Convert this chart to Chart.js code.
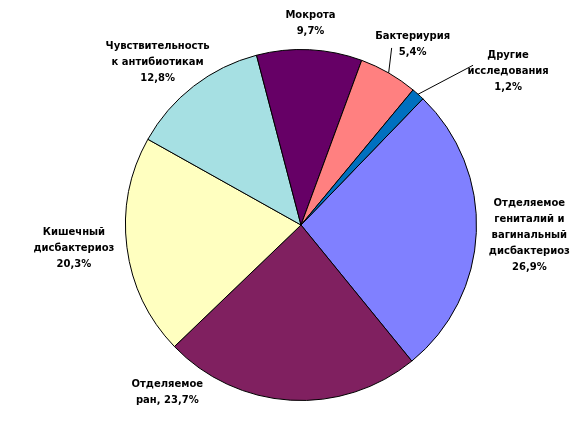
<!DOCTYPE html>
<html>
<head>
<meta charset="utf-8">
<script src="https://cdn.jsdelivr.net/npm/chart.js@4"></script>
<style>
  html, body { margin: 0; padding: 0; background: #fff; }
  #wrap { width: 588px; height: 425px; position: relative; }
</style>
</head>
<body>
<div id="wrap"><canvas id="pieChart"></canvas></div>
<script>
// данные диаграммы
const categories = [
  'Отделяемое\nгениталий и\nвагинальный\nдисбактериоз',
  'Отделяемое\nран,',
  'Кишечный\nдисбактериоз',
  'Чувствительность\nк антибиотикам',
  'Мокрота',
  'Бактериурия',
  'Другие\nисследования'
];
const values = [26.9, 23.7, 20.3, 12.8, 9.7, 5.4, 1.2];
const colors = ['#8080FF', '#802060', '#FFFFC0', '#A6E0E3', '#660066', '#FF8080', '#0070C0'];

// сдвиг подписи от края сектора (dx, dy), и выноски
const labelShift = [[53, 3], [-123, -8], [-53, 1], [-36, -24], [1, -26], [24, -29], [90, -23]];
const leaderFrom = [null, null, null, null, null, [-21, 4], [-35, -6]];

function fmt(v) {
  return v.toFixed(1).replace('.', ',') + '%';
}

const pieLabels = {
  id: 'pieLabels',
  afterDatasetsDraw(chart) {
    const ctx = chart.ctx;
    const meta = chart.getDatasetMeta(0);
    ctx.save();
    ctx.font = 'bold 10px "DejaVu Sans"';
    ctx.fillStyle = '#000';
    ctx.strokeStyle = '#000';
    ctx.lineWidth = 1;
    ctx.textAlign = 'center';
    ctx.textBaseline = 'middle';
    meta.data.forEach((arc, i) => {
      const mid = (arc.startAngle + arc.endAngle) / 2;
      const ex = arc.x + Math.cos(mid) * arc.outerRadius;
      const ey = arc.y + Math.sin(mid) * arc.outerRadius;
      const cx = ex + labelShift[i][0];
      const cy = ey + labelShift[i][1];

      let lines = categories[i].split('\n');
      if (lines[lines.length - 1].endsWith(',')) {
        lines[lines.length - 1] += ' ' + fmt(values[i]);
      } else {
        lines.push(fmt(values[i]));
      }
      const lh = 16;
      const top = cy - (lines.length - 1) * lh / 2;
      lines.forEach((t, k) => ctx.fillText(t, cx, top + k * lh));

      if (leaderFrom[i]) {
        ctx.beginPath();
        ctx.moveTo(cx + leaderFrom[i][0], cy + leaderFrom[i][1]);
        ctx.lineTo(ex, ey);
        ctx.stroke();
      }
    });
    ctx.restore();
  }
};

new Chart(document.getElementById('pieChart'), {
  type: 'pie',
  data: {
    labels: categories,
    datasets: [{
      data: values,
      backgroundColor: colors,
      borderColor: '#000',
      borderWidth: 1
    }]
  },
  options: {
    responsive: true,
    maintainAspectRatio: false,
    animation: false,
    rotation: 44,
    layout: { padding: { left: 125, right: 111, top: 49, bottom: 24 } },
    plugins: {
      legend: { display: false },
      tooltip: { enabled: false }
    }
  },
  plugins: [pieLabels]
});
</script>
</body>
</html>
